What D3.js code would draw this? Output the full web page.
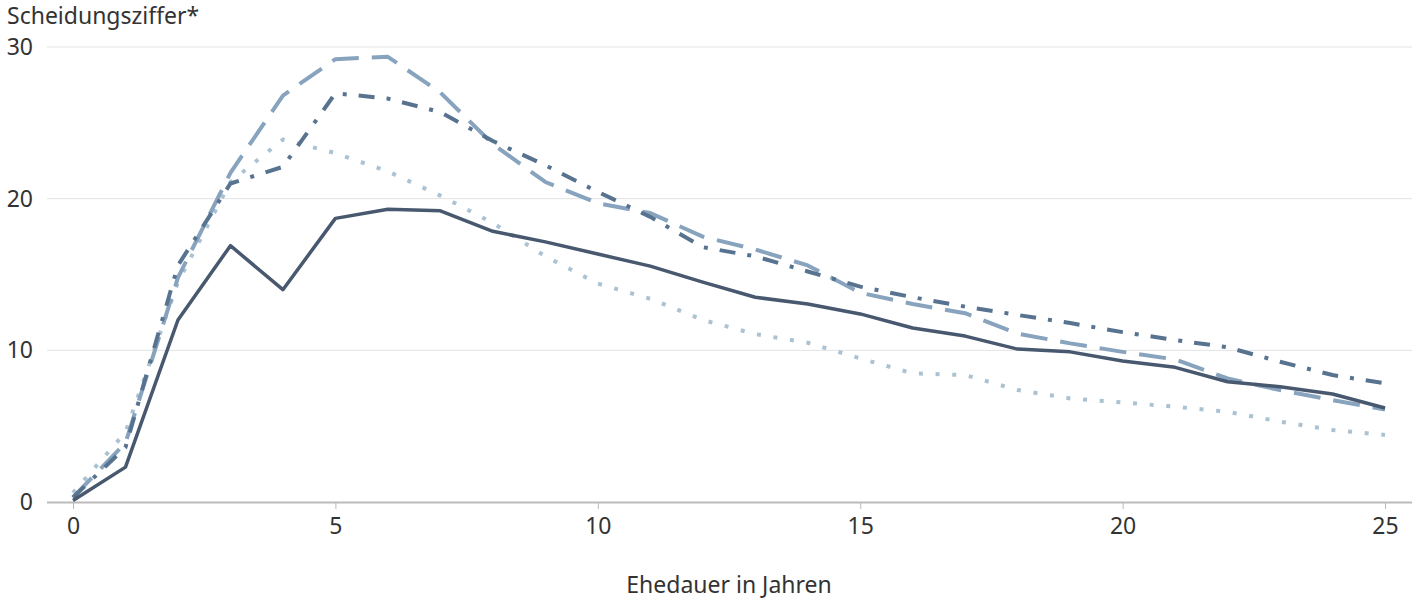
<!DOCTYPE html>
<html>
<head>
<meta charset="utf-8">
<script src="https://cdn.jsdelivr.net/npm/d3@7"></script>
<style>
  body { margin: 0; background: #fff; }
  svg text { font-family: "Noto Sans", sans-serif; fill: #333; }
</style>
</head>
<body>
<svg id="chart"></svg>
<script>
// Ehedauer 0..25 Jahre
var years = d3.range(0, 26);

var seriesSolid = [0.1, 2.3, 12.0, 16.9, 14.0, 18.7, 19.3, 19.2, 17.85, 17.15, 16.35, 15.55, 14.5, 13.5, 13.05, 12.4, 11.47, 10.94, 10.08, 9.9, 9.3, 8.88, 7.93, 7.6, 7.12, 6.2];
var seriesDashDot = [0.3, 3.6, 15.6, 21.0, 22.1, 26.95, 26.6, 25.7, 23.8, 22.2, 20.45, 18.8, 16.8, 16.2, 15.2, 14.2, 13.5, 12.88, 12.33, 11.8, 11.2, 10.68, 10.2, 9.25, 8.37, 7.82];
var seriesLongDash = [0.3, 3.9, 14.8, 21.7, 26.8, 29.2, 29.35, 27.0, 23.6, 21.1, 19.7, 19.05, 17.5, 16.65, 15.6, 13.8, 13.05, 12.45, 11.1, 10.46, 9.9, 9.4, 8.15, 7.38, 6.72, 6.1];
var seriesDotted = [0.6, 4.6, 14.5, 21.1, 23.9, 23.0, 21.8, 20.2, 18.4, 16.2, 14.4, 13.4, 12.0, 11.07, 10.5, 9.47, 8.48, 8.37, 7.38, 6.83, 6.57, 6.28, 5.95, 5.3, 4.75, 4.42];

var xTicks = [0, 5, 10, 15, 20, 25];
var yTicks = [0, 10, 20, 30];

var width = 1418, height = 602;
var svg = d3.select('#chart').attr('width', width).attr('height', height);

var x = d3.scaleLinear().domain([0, 25]).range([73, 1385]);
var y = d3.scaleLinear().domain([0, 30]).range([502, 47]);

// gridlines
svg.selectAll('.grid')
    .data(yTicks.filter(function (d) { return d > 0; }))
    .enter().append('line')
    .attr('x1', 47).attr('x2', 1412)
    .attr('y1', function (d) { return y(d); })
    .attr('y2', function (d) { return y(d); })
    .attr('stroke', '#e3e3e3').attr('stroke-width', 1);

// y labels
svg.selectAll('.ylab')
    .data(yTicks)
    .enter().append('text')
    .attr('x', 33)
    .attr('y', function (d) { return y(d) + 8; })
    .attr('text-anchor', 'end')
    .attr('font-size', 23)
    .text(function (d) { return d; });

// x axis
var xAxis = d3.axisBottom(x).tickValues(xTicks).tickSize(7).tickPadding(9);
var gx = svg.append('g').attr('transform', 'translate(0,502)').call(xAxis);
gx.select('.domain').remove();
gx.selectAll('.tick line').attr('stroke', '#bbb');
gx.selectAll('.tick text').attr('font-size', 23).attr('fill', '#333')
    .attr('font-family', '"Noto Sans", sans-serif');
svg.append('line')
    .attr('x1', 47).attr('x2', 1412).attr('y1', 502.5).attr('y2', 502.5)
    .attr('stroke', '#bbb').attr('stroke-width', 2);

// titles
svg.append('text').attr('x', 7).attr('y', 24).attr('font-size', 23).text('Scheidungsziffer*');
svg.append('text').attr('x', 729).attr('y', 593).attr('text-anchor', 'middle')
    .attr('font-size', 23).text('Ehedauer in Jahren');

var line = d3.line()
    .x(function (d, i) { return x(years[i]); })
    .y(function (d) { return y(d); });

var series = [
    { values: seriesDotted, color: '#abc2d3', dash: '4,12.7', width: 4 },
    { values: seriesLongDash, color: '#88a3bd', dash: '27,13', width: 4 },
    { values: seriesDashDot, color: '#587390', dash: '16,12,4,12', width: 4 },
    { values: seriesSolid, color: '#47586f', dash: null, width: 3.5 }
];

svg.selectAll('.series')
    .data(series)
    .enter().append('path')
    .attr('fill', 'none')
    .attr('stroke', function (d) { return d.color; })
    .attr('stroke-width', function (d) { return d.width; })
    .attr('stroke-dasharray', function (d) { return d.dash; })
    .attr('stroke-linejoin', 'round')
    .attr('d', function (d) { return line(d.values); });
</script>
</body>
</html>
